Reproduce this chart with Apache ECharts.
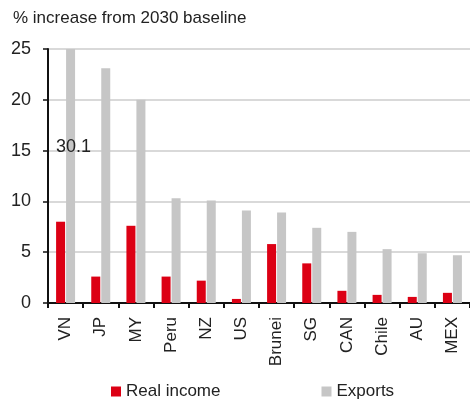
<!DOCTYPE html>
<html>
<head>
<meta charset="utf-8">
<script src="https://cdn.jsdelivr.net/npm/echarts@6/dist/echarts.min.js"></script>
<style>
  html, body { margin: 0; padding: 0; background: #fff; }
  #chart { width: 470px; height: 400px; }
</style>
</head>
<body>
<div id="chart"></div>
<script>
// 数据
var categories = ['VN', 'JP', 'MY', 'Peru', 'NZ', 'US', 'Brunei', 'SG', 'CAN', 'Chile', 'AU', 'MEX'];
var realIncome = [8.0, 2.6, 7.6, 2.6, 2.2, 0.4, 5.8, 3.9, 1.2, 0.8, 0.6, 1.0];
var exportsData = [30.1, 23.1, 20.0, 10.3, 10.1, 9.1, 8.9, 7.4, 7.0, 5.3, 4.9, 4.7];
var yTicks = [0, 5, 10, 15, 20, 25];
var seriesNames = ['Real income', 'Exports'];

var FONT = '"Liberation Sans", Arial, sans-serif';

var myChart = echarts.init(document.getElementById('chart'));
var option = {
    animation: false,
    color: ['#dc0014', '#c6c6c6'],
    title: {
        text: '% increase from 2030 baseline',
        left: 8,
        top: 5,
        textStyle: { fontFamily: FONT, fontSize: 17, fontWeight: 'normal', color: '#222' }
    },
    legend: {
        data: seriesNames,
        top: 378,
        left: 106,
        itemWidth: 10,
        itemHeight: 10,
        itemGap: 101,
        icon: 'rect',
        textStyle: { fontFamily: FONT, fontSize: 17, color: '#222' }
    },
    grid: {
        left: 48,
        right: 0,
        top: 49,
        bottom: 97
    },
    xAxis: {
        type: 'category',
        data: categories,
        axisLine: { lineStyle: { color: '#111', width: 2 } },
        axisTick: { show: true, length: 5, lineStyle: { color: '#111', width: 2 } },
        axisLabel: {
            rotate: 90,
            margin: 14,
            fontFamily: FONT,
            fontSize: 17,
            color: '#222'
        }
    },
    yAxis: {
        type: 'value',
        min: yTicks[0],
        max: yTicks[yTicks.length - 1],
        interval: 5,
        axisLine: { show: true, lineStyle: { color: '#111', width: 2 } },
        axisTick: { show: true, length: 5, lineStyle: { color: '#111', width: 1.5 } },
        axisLabel: { fontFamily: FONT, fontSize: 18, color: '#222', margin: 17 },
        splitLine: { lineStyle: { color: '#d9d9d9', width: 2 } }
    },
    series: [
        {
            name: seriesNames[0],
            type: 'bar',
            data: realIncome,
            barWidth: 9,
            barGap: '11%'
        },
        {
            name: seriesNames[1],
            type: 'bar',
            data: exportsData,
            barWidth: 9,
            clip: true
        }
    ],
    graphic: [
        {
            type: 'text',
            left: 56,
            top: 138,
            z: 100,
            style: { text: exportsData[0].toFixed(1), fontFamily: FONT, fontSize: 18, fill: '#222' }
        }
    ]
};
myChart.setOption(option);
</script>
</body>
</html>
